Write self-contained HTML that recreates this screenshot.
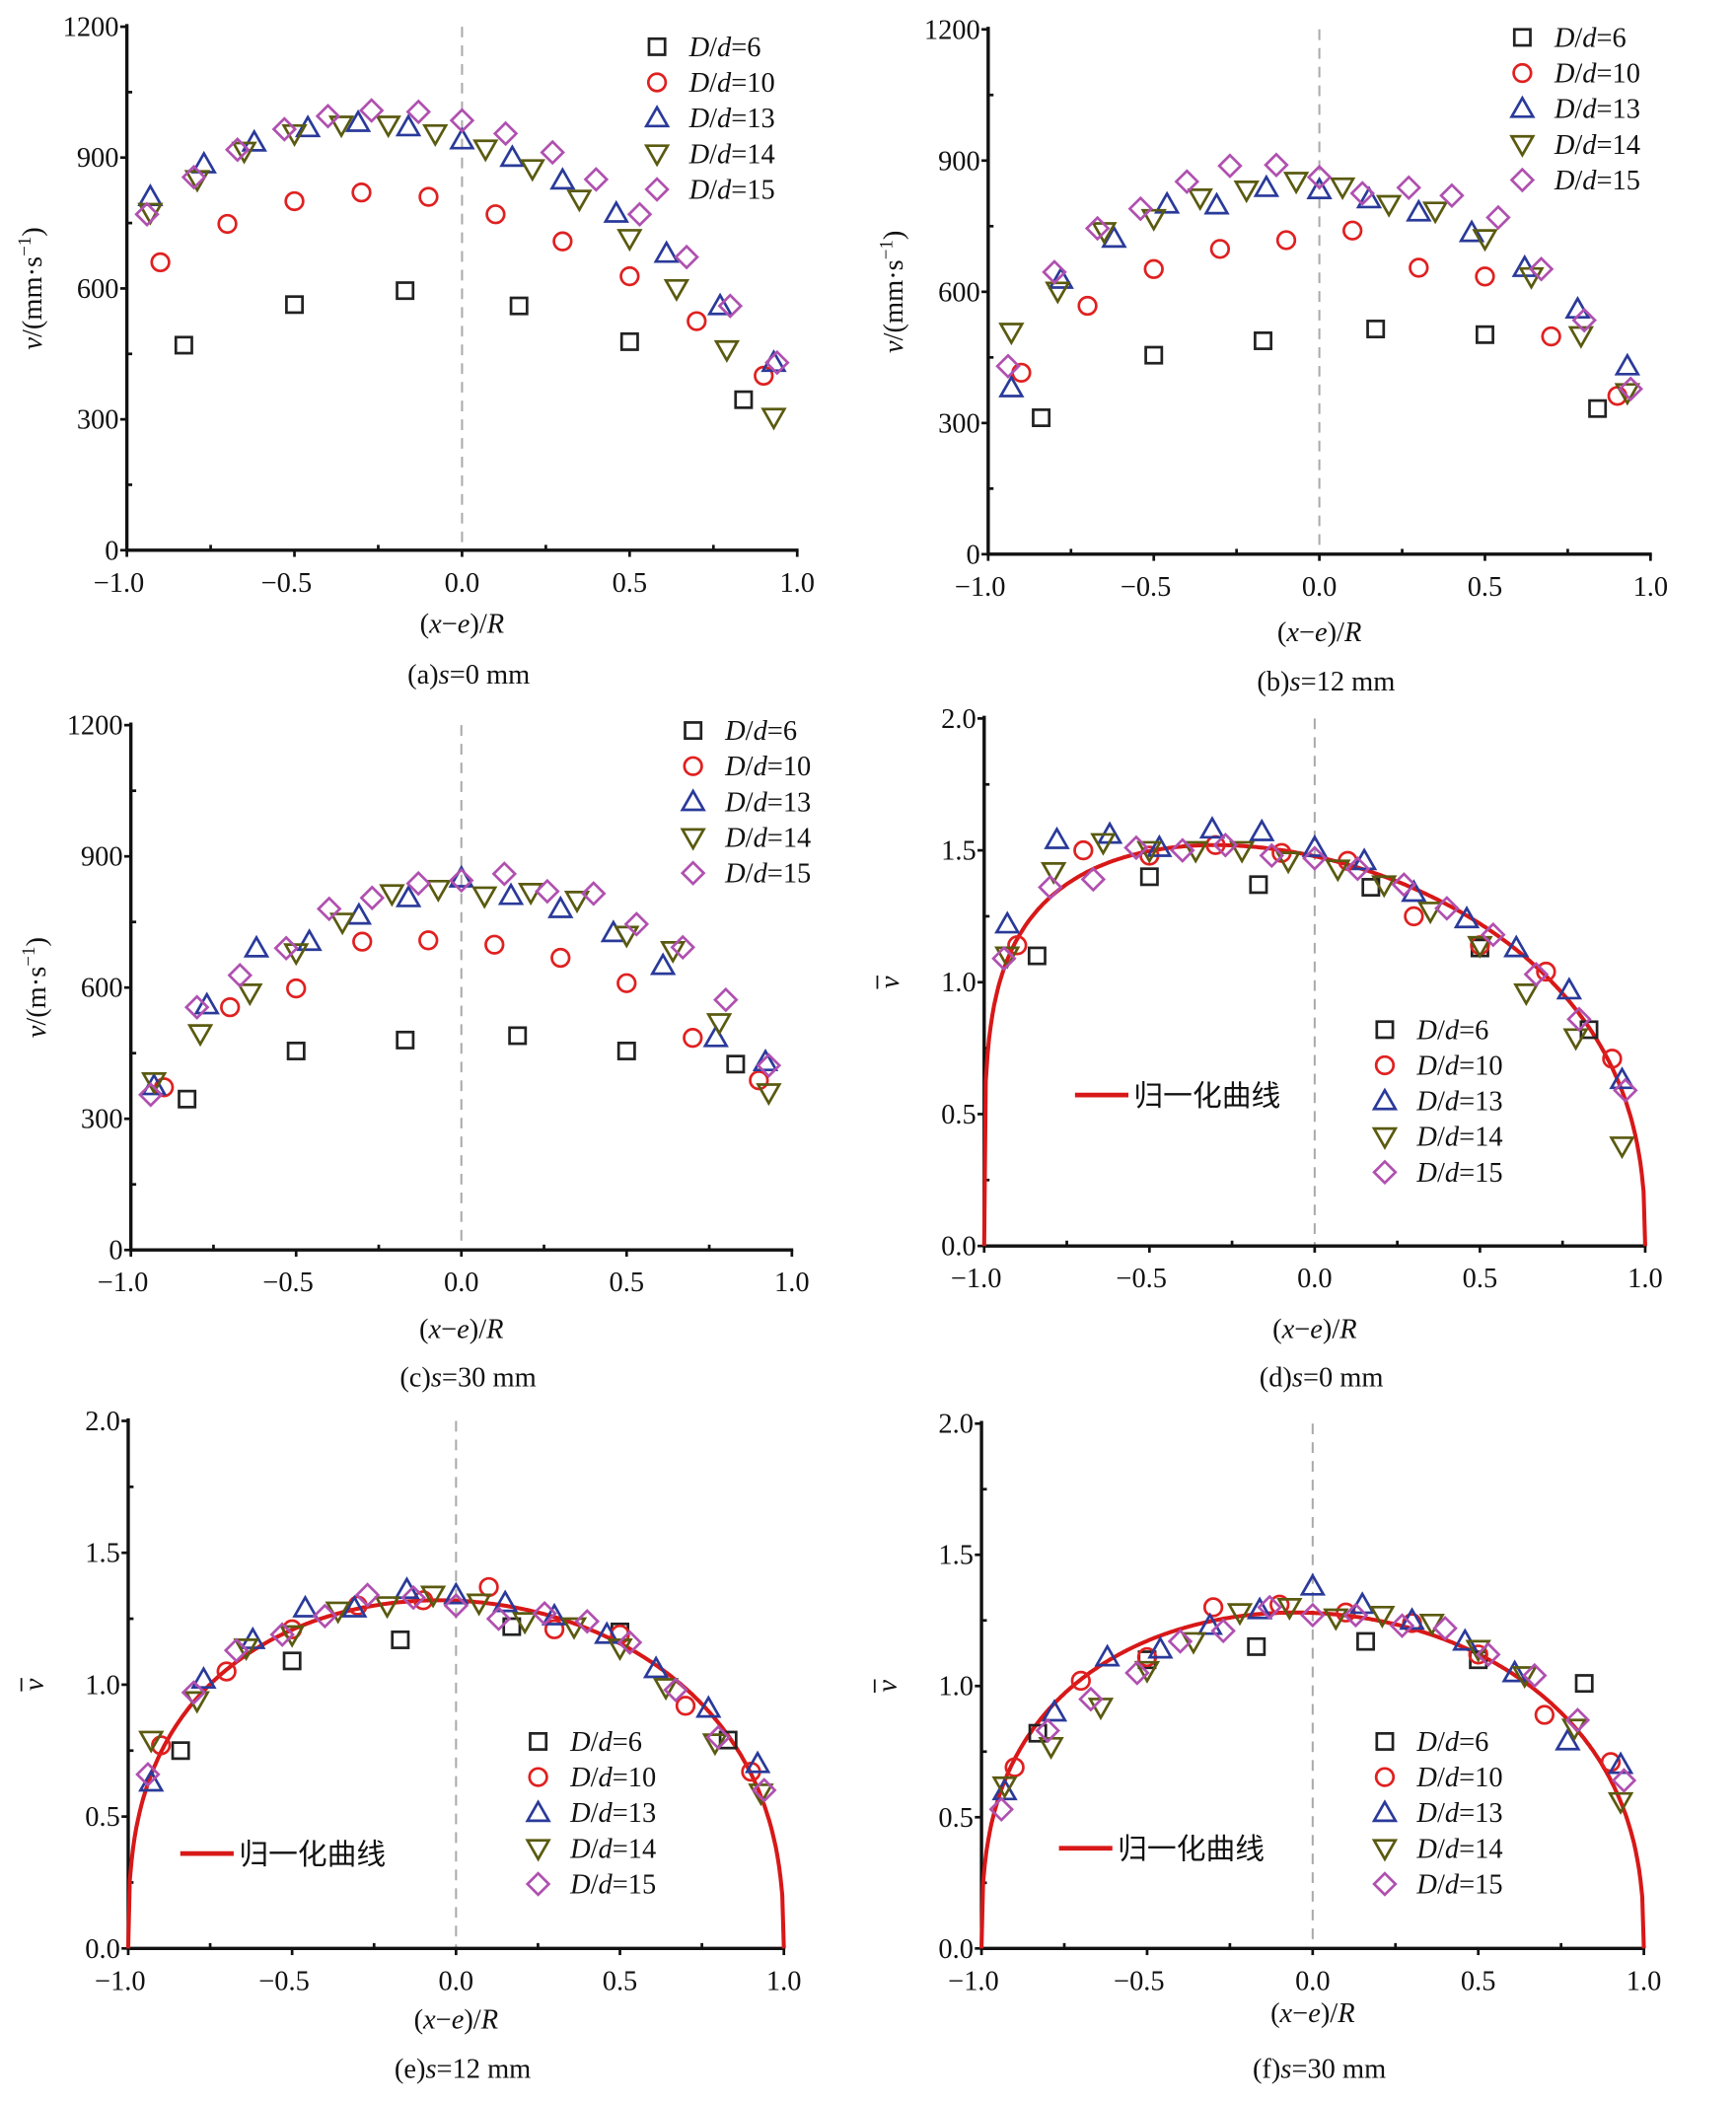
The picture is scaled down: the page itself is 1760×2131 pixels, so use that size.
<!DOCTYPE html>
<html><head><meta charset="utf-8">
<style>html,body{margin:0;padding:0;background:#fff}svg{display:block}
text{font-family:"Liberation Serif","Noto Serif CJK SC",serif;fill:#111}</style></head>
<body>
<svg id="s" width="1760" height="2131" viewBox="0 0 1300 1574" preserveAspectRatio="none" xmlns="http://www.w3.org/2000/svg"></svg>
<script>
const S=document.getElementById('s');const NS='http://www.w3.org/2000/svg';
function el(t,a,txt,par){const e=document.createElementNS(NS,t);for(const k in a)e.setAttribute(k,a[k]);if(txt!==undefined)e.innerHTML=txt;(par||S).appendChild(e);return e;}
const COL=['#222','#e02020','#2a3a9a','#5a5a10','#b050b0'];
function marker(k,x,y){const c=COL[k],sw=2;
 if(k==0)el('rect',{x:x-6,y:y-6,width:12,height:12,fill:'none',stroke:c,'stroke-width':sw});
 else if(k==1)el('circle',{cx:x,cy:y,r:6.5,fill:'none',stroke:c,'stroke-width':sw});
 else if(k==2)el('polygon',{points:`${x},${y-8} ${x-8},${y+6} ${x+8},${y+6}`,fill:'none',stroke:c,'stroke-width':sw});
 else if(k==3)el('polygon',{points:`${x},${y+8} ${x-8},${y-6} ${x+8},${y-6}`,fill:'none',stroke:c,'stroke-width':sw});
 else el('polygon',{points:`${x},${y-8} ${x+8},${y} ${x},${y+8} ${x-8},${y}`,fill:'none',stroke:c,'stroke-width':sw});}
function panel(P){
 const X=v=>P.x0+(v+1)/2*(P.x1-P.x0), Y=v=>P.y0-(v/P.ymax)*(P.y0-P.y1);
 el('line',{x1:X(0),y1:P.y1,x2:X(0),y2:P.y0,stroke:'#aaa','stroke-width':1.5,'stroke-dasharray':'8,6'});
 el('line',{x1:P.x0,y1:P.y1-2,x2:P.x0,y2:P.y0+1,stroke:'#111','stroke-width':2.5});
 el('line',{x1:P.x0-1,y1:P.y0,x2:P.x1+1,y2:P.y0,stroke:'#111','stroke-width':2.5});
 [-1,-0.5,0,0.5,1].forEach(v=>{el('line',{x1:X(v),y1:P.y0,x2:X(v),y2:P.y0+5,stroke:'#111','stroke-width':2});
  el('text',{x:X(v)+(v<0?-6:0),y:P.y0+31,'font-size':21,'text-anchor':'middle'},v==0?'0.0':(v<0?'−':'')+Math.abs(v).toFixed(1));});
 [-0.75,-0.25,0.25,0.75].forEach(v=>el('line',{x1:X(v),y1:P.y0,x2:X(v),y2:P.y0-4,stroke:'#111','stroke-width':2}));
 P.yt.forEach((v,i)=>{el('line',{x1:P.x0-5,y1:Y(v),x2:P.x0,y2:Y(v),stroke:'#111','stroke-width':2});
  el('text',{x:P.x0-6,y:Y(v)+7,'font-size':21,'text-anchor':'end'},P.ylab[i]);
  if(i<P.yt.length-1){const m=(v+P.yt[i+1])/2;el('line',{x1:P.x0,y1:Y(m),x2:P.x0+4,y2:Y(m),stroke:'#111','stroke-width':2});}});
 if(P.curve){let d='';for(let i=0;i<=400;i++){const x=-1+2*i/400;const v=P.curve(x);d+=(i?'L':'M')+X(x).toFixed(1)+','+Y(v).toFixed(1);}
  el('path',{d:d,fill:'none',stroke:'#d81818','stroke-width':3});}
 P.d.forEach((s,k)=>s.forEach(p=>marker(k,X(p[0]),Y(p[1]))));
 const L=P.leg;const names=['6','10','13','14','15'];
 names.forEach((n,i)=>{marker(i,L[0],L[1]+i*26.7);el('text',{x:L[0]+24,y:L[1]+i*26.7+7,'font-size':21},'<tspan font-style="italic">D</tspan>/<tspan font-style="italic">d</tspan>='+n);});
 if(P.cl){el('line',{x1:P.cl[0],y1:P.cl[1],x2:P.cl[0]+40,y2:P.cl[1],stroke:'#d81818','stroke-width':3.5});
  el('text',{x:P.cl[0]+44,y:P.cl[1]+8,'font-size':22,style:'font-family:"Noto Sans CJK SC",sans-serif'},'归一化曲线');}
 const cx=(P.x0+P.x1)/2;
 el('text',{x:cx,y:P.xl,'font-size':21,'text-anchor':'middle'},'(<tspan font-style="italic">x</tspan>−<tspan font-style="italic">e</tspan>)/<tspan font-style="italic">R</tspan>');
 el('text',{x:cx+5,y:P.cap,'font-size':21,'text-anchor':'middle'},P.capt);
 const ym=(P.y0+P.y1)/2, lx=P.x0-70;
 if(P.norm){const g=el('g',{transform:`rotate(-90 ${lx} ${ym})`});
  el('text',{x:lx,y:ym+6,'font-size':21,'font-style':'italic','text-anchor':'middle'},'v',g);
  el('line',{x1:lx-5,y1:ym-10,x2:lx+5,y2:ym-10,stroke:'#111','stroke-width':1.3},undefined,g);}
 else el('text',{x:lx,y:ym+6,'font-size':21,'text-anchor':'middle',transform:`rotate(-90 ${lx} ${ym})`},P.yl);
}
const yA=[0,300,600,900,1200],yAl=['0','300','600','900','1200'],yN=[0,0.5,1,1.5,2],yNl=['0.0','0.5','1.0','1.5','2.0'];
const vmm='<tspan font-style="italic">v</tspan>/(mm·s<tspan dy="-8" font-size="14">−1</tspan><tspan dy="8">)</tspan>';
const vm='<tspan font-style="italic">v</tspan>/(m·s<tspan dy="-8" font-size="14">−1</tspan><tspan dy="8">)</tspan>';
const cap=(l,s)=>`(${l})<tspan font-style="italic">s</tspan>=${s} mm`;
function skew(C,p,q){return x=>C*Math.pow(Math.max(1-x,0),p)*Math.pow(Math.max(1+x,0),q);}
const fd=skew(1,0.4,0.215),fe=skew(1,0.4,0.36),ff=skew(1,0.4,0.36);
const cd=x=>1.52/fd(-0.3)*fd(x), ce=x=>1.32/fe(-0.05)*fe(x), cf=x=>1.28/ff(-0.05)*ff(x);
panel({x0:95,x1:597,y0:412,y1:20,ymax:1200,yt:yA,ylab:yAl,yl:vmm,leg:[492,35],xl:474,cap:512,capt:cap('a','0'),
d:[[[-0.83,470],[-0.5,563],[-0.17,595],[0.17,560],[0.5,478],[0.84,345]],
[[-0.9,660],[-0.7,748],[-0.5,800],[-0.3,820],[-0.1,810],[0.1,770],[0.3,708],[0.5,628],[0.7,525],[0.9,400]],
[[-0.93,810],[-0.77,885],[-0.62,935],[-0.46,968],[-0.31,980],[-0.16,970],[0,940],[0.15,900],[0.3,848],[0.46,772],[0.61,680],[0.77,560],[0.93,430]],
[[-0.93,775],[-0.79,850],[-0.65,915],[-0.5,955],[-0.36,975],[-0.22,975],[-0.08,955],[0.07,920],[0.21,875],[0.35,805],[0.5,715],[0.64,600],[0.79,460],[0.93,305]],
[[-0.94,770],[-0.8,855],[-0.67,918],[-0.53,965],[-0.4,995],[-0.27,1008],[-0.13,1005],[0,985],[0.13,955],[0.27,912],[0.4,850],[0.53,770],[0.67,672],[0.8,560],[0.94,430]]]});
panel({x0:740,x1:1236,y0:415,y1:22,ymax:1200,yt:yA,ylab:yAl,yl:vmm,leg:[1140,28],xl:480,cap:517,capt:cap('b','12'),
d:[[[-0.84,312],[-0.5,455],[-0.17,488],[0.17,515],[0.5,502],[0.84,333]],
[[-0.9,415],[-0.7,568],[-0.5,652],[-0.3,698],[-0.1,718],[0.1,740],[0.3,655],[0.5,635],[0.7,498],[0.9,362]],
[[-0.93,380],[-0.78,628],[-0.62,722],[-0.46,800],[-0.31,798],[-0.16,838],[0,833],[0.15,812],[0.3,782],[0.46,735],[0.62,655],[0.78,560],[0.93,430]],
[[-0.93,508],[-0.79,602],[-0.65,738],[-0.5,768],[-0.36,815],[-0.22,833],[-0.07,853],[0.07,840],[0.21,800],[0.35,785],[0.5,722],[0.64,635],[0.79,500],[0.93,370]],
[[-0.94,430],[-0.8,645],[-0.67,745],[-0.54,790],[-0.4,852],[-0.27,888],[-0.13,890],[0,862],[0.13,825],[0.27,838],[0.4,820],[0.54,770],[0.67,652],[0.8,535],[0.94,378]]]});
panel({x0:98,x1:593,y0:936,y1:543,ymax:1200,yt:yA,ylab:yAl,yl:vm,leg:[519,547],xl:1002,cap:1038,capt:cap('c','30'),
d:[[[-0.83,345],[-0.5,455],[-0.17,480],[0.17,490],[0.5,455],[0.83,425]],
[[-0.9,372],[-0.7,555],[-0.5,598],[-0.3,705],[-0.1,708],[0.1,698],[0.3,668],[0.5,610],[0.7,485],[0.9,388]],
[[-0.93,375],[-0.77,560],[-0.62,690],[-0.46,705],[-0.31,765],[-0.16,805],[0,850],[0.15,810],[0.3,780],[0.46,725],[0.61,650],[0.77,485],[0.92,430]],
[[-0.93,385],[-0.79,495],[-0.64,588],[-0.5,680],[-0.36,750],[-0.21,815],[-0.07,825],[0.07,810],[0.21,818],[0.35,800],[0.5,720],[0.64,685],[0.78,520],[0.93,360]],
[[-0.94,355],[-0.8,555],[-0.67,628],[-0.53,690],[-0.4,780],[-0.27,805],[-0.13,838],[0,845],[0.13,860],[0.26,820],[0.4,815],[0.53,745],[0.67,692],[0.8,572],[0.93,422]]]});
panel({x0:737,x1:1232,y0:933,y1:538,ymax:2,yt:yN,ylab:yNl,norm:1,leg:[1037,771],cl:[805,820],curve:cd,xl:1002,cap:1038,capt:cap('d','0'),
d:[[[-0.84,1.10],[-0.5,1.40],[-0.17,1.37],[0.17,1.36],[0.5,1.13],[0.83,0.82]],
[[-0.9,1.14],[-0.7,1.50],[-0.5,1.48],[-0.3,1.52],[-0.1,1.49],[0.1,1.46],[0.3,1.25],[0.5,1.14],[0.7,1.04],[0.9,0.71]],
[[-0.93,1.22],[-0.78,1.54],[-0.62,1.56],[-0.47,1.51],[-0.31,1.58],[-0.16,1.57],[0,1.51],[0.15,1.46],[0.3,1.34],[0.46,1.24],[0.61,1.13],[0.77,0.97],[0.93,0.63]],
[[-0.93,1.10],[-0.79,1.42],[-0.64,1.53],[-0.5,1.50],[-0.36,1.50],[-0.22,1.50],[-0.08,1.46],[0.07,1.43],[0.21,1.37],[0.35,1.27],[0.5,1.14],[0.64,0.96],[0.79,0.79],[0.93,0.38]],
[[-0.94,1.09],[-0.8,1.36],[-0.67,1.39],[-0.54,1.51],[-0.4,1.50],[-0.27,1.52],[-0.13,1.48],[0,1.47],[0.13,1.43],[0.27,1.37],[0.4,1.28],[0.54,1.18],[0.67,1.03],[0.8,0.86],[0.94,0.59]]]});
panel({x0:96,x1:587,y0:1459,y1:1064,ymax:2,yt:yN,ylab:yNl,norm:1,leg:[403,1304],cl:[135,1388],curve:ce,xl:1519,cap:1556,capt:cap('e','12'),
d:[[[-0.84,0.75],[-0.5,1.09],[-0.17,1.17],[0.17,1.22],[0.5,1.20],[0.83,0.79]],
[[-0.9,0.77],[-0.7,1.05],[-0.5,1.21],[-0.3,1.30],[-0.1,1.32],[0.1,1.37],[0.3,1.21],[0.5,1.19],[0.7,0.92],[0.9,0.67]],
[[-0.93,0.63],[-0.77,1.02],[-0.62,1.17],[-0.46,1.29],[-0.31,1.29],[-0.15,1.36],[0,1.34],[0.15,1.31],[0.3,1.26],[0.46,1.19],[0.61,1.06],[0.77,0.91],[0.92,0.70]],
[[-0.93,0.79],[-0.79,0.94],[-0.64,1.14],[-0.5,1.19],[-0.36,1.28],[-0.21,1.30],[-0.07,1.34],[0.07,1.31],[0.21,1.24],[0.36,1.22],[0.5,1.14],[0.64,0.99],[0.79,0.78],[0.93,0.59]],
[[-0.94,0.66],[-0.8,0.97],[-0.67,1.13],[-0.53,1.19],[-0.4,1.26],[-0.27,1.34],[-0.13,1.33],[0,1.30],[0.13,1.25],[0.27,1.27],[0.4,1.24],[0.53,1.16],[0.67,0.98],[0.8,0.80],[0.94,0.60]]]});
panel({x0:735,x1:1231,y0:1459,y1:1066,ymax:2,yt:yN,ylab:yNl,norm:1,leg:[1037,1304],cl:[793,1384],curve:cf,xl:1514,cap:1556,capt:cap('f','30'),
d:[[[-0.83,0.82],[-0.5,1.10],[-0.17,1.15],[0.16,1.17],[0.5,1.10],[0.82,1.01]],
[[-0.9,0.69],[-0.7,1.02],[-0.5,1.11],[-0.3,1.30],[-0.1,1.31],[0.1,1.28],[0.3,1.24],[0.5,1.12],[0.7,0.89],[0.9,0.71]],
[[-0.93,0.60],[-0.78,0.90],[-0.62,1.11],[-0.46,1.14],[-0.31,1.23],[-0.16,1.29],[0,1.38],[0.15,1.31],[0.3,1.25],[0.46,1.17],[0.61,1.05],[0.77,0.79],[0.93,0.70]],
[[-0.93,0.62],[-0.79,0.77],[-0.64,0.92],[-0.5,1.06],[-0.36,1.17],[-0.22,1.28],[-0.07,1.30],[0.07,1.26],[0.21,1.27],[0.36,1.24],[0.5,1.14],[0.64,1.04],[0.79,0.84],[0.93,0.56]],
[[-0.94,0.53],[-0.8,0.83],[-0.67,0.95],[-0.53,1.05],[-0.4,1.17],[-0.27,1.21],[-0.13,1.30],[0,1.27],[0.13,1.27],[0.27,1.23],[0.4,1.22],[0.53,1.12],[0.67,1.04],[0.8,0.87],[0.94,0.64]]]});
</script>
</body></html>
